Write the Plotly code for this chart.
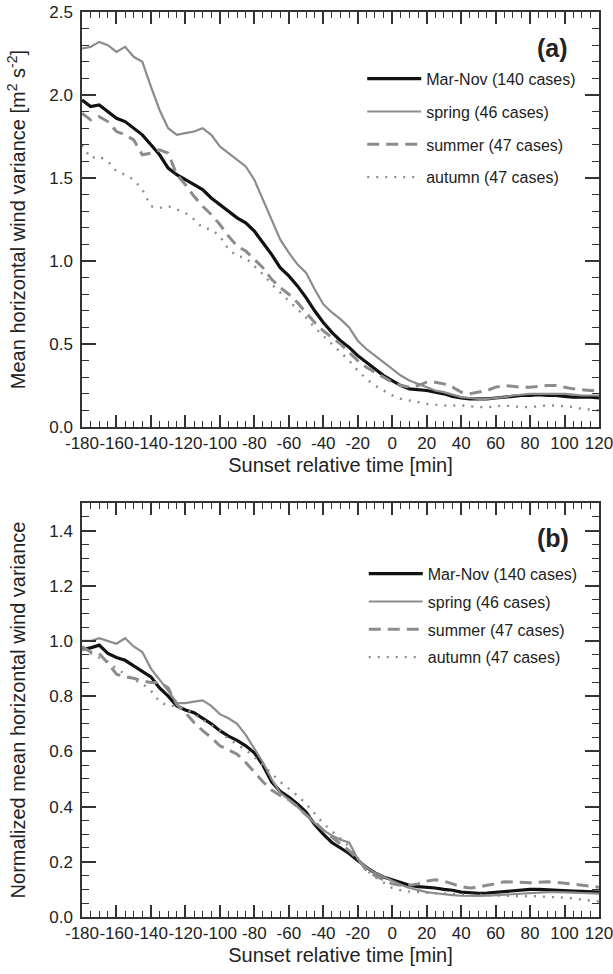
import plotly.graph_objects as go

# ---------------- data ----------------
time_min = list(range(-180, 121, 5))

series_names = ["Mar-Nov (140 cases)", "spring (46 cases)", "summer (47 cases)", "autumn (47 cases)"]

# panel (a): mean horizontal wind variance [m2 s-2]
a_marnov = [1.97, 1.93, 1.94, 1.90, 1.86, 1.84, 1.80, 1.76, 1.70, 1.64, 1.56, 1.52, 1.49, 1.46, 1.43, 1.38,
            1.34, 1.30, 1.26, 1.23, 1.18, 1.11, 1.04, 0.96, 0.91, 0.85, 0.78, 0.70, 0.63, 0.57, 0.52, 0.48,
            0.43, 0.39, 0.35, 0.31, 0.28, 0.25, 0.23, 0.225, 0.22, 0.21, 0.20, 0.185, 0.175, 0.17, 0.17, 0.17,
            0.175, 0.18, 0.185, 0.19, 0.19, 0.195, 0.19, 0.19, 0.185, 0.18, 0.18, 0.18, 0.175]
a_spring = [2.28, 2.29, 2.32, 2.30, 2.26, 2.29, 2.23, 2.20, 2.05, 1.91, 1.80, 1.76, 1.77, 1.78, 1.80, 1.76,
            1.69, 1.65, 1.61, 1.57, 1.49, 1.37, 1.25, 1.13, 1.05, 0.98, 0.93, 0.83, 0.74, 0.69, 0.65, 0.60,
            0.52, 0.47, 0.43, 0.39, 0.35, 0.31, 0.28, 0.26, 0.24, 0.22, 0.21, 0.195, 0.18, 0.175, 0.17, 0.17,
            0.175, 0.18, 0.19, 0.195, 0.20, 0.20, 0.20, 0.20, 0.20, 0.195, 0.19, 0.19, 0.19]
a_summer = [1.89, 1.85, 1.87, 1.84, 1.78, 1.76, 1.73, 1.64, 1.65, 1.67, 1.65, 1.52, 1.46, 1.39, 1.33, 1.28,
            1.22, 1.15, 1.09, 1.06, 1.01, 0.96, 0.89, 0.84, 0.80, 0.75, 0.69, 0.63, 0.58, 0.54, 0.50, 0.45,
            0.40, 0.36, 0.33, 0.30, 0.27, 0.25, 0.24, 0.25, 0.27, 0.27, 0.26, 0.24, 0.21, 0.20, 0.21, 0.22,
            0.24, 0.25, 0.245, 0.24, 0.24, 0.245, 0.25, 0.25, 0.24, 0.23, 0.225, 0.22, 0.22]
a_autumn = [1.70, 1.62, 1.63, 1.60, 1.54, 1.52, 1.49, 1.43, 1.33, 1.32, 1.33, 1.31, 1.29, 1.25, 1.20, 1.19,
            1.15, 1.07, 1.03, 1.02, 0.97, 0.92, 0.86, 0.81, 0.76, 0.71, 0.66, 0.60, 0.55, 0.50, 0.45, 0.40,
            0.34, 0.29, 0.25, 0.22, 0.19, 0.17, 0.16, 0.15, 0.14, 0.135, 0.13, 0.13, 0.13, 0.125, 0.12, 0.12,
            0.125, 0.13, 0.125, 0.12, 0.12, 0.125, 0.13, 0.13, 0.125, 0.12, 0.11, 0.105, 0.10]

# panel (b): normalized mean horizontal wind variance
b_marnov = [0.97, 0.975, 0.985, 0.955, 0.94, 0.93, 0.91, 0.89, 0.87, 0.83, 0.80, 0.765, 0.75, 0.74, 0.72, 0.70,
            0.675, 0.655, 0.64, 0.62, 0.595, 0.55, 0.49, 0.455, 0.435, 0.41, 0.38, 0.335, 0.30, 0.27, 0.25, 0.23,
            0.205, 0.18, 0.16, 0.145, 0.135, 0.125, 0.115, 0.11, 0.108, 0.105, 0.10, 0.097, 0.09, 0.087, 0.086, 0.087,
            0.09, 0.093, 0.096, 0.098, 0.10, 0.10, 0.098, 0.097, 0.095, 0.094, 0.093, 0.092, 0.09]
b_spring = [1.00, 1.00, 1.01, 1.00, 0.99, 1.01, 0.98, 0.96, 0.90, 0.86, 0.82, 0.775, 0.775, 0.78, 0.785, 0.765,
            0.735, 0.72, 0.70, 0.66, 0.61, 0.56, 0.50, 0.45, 0.425, 0.40, 0.37, 0.34, 0.315, 0.295, 0.28, 0.27,
            0.21, 0.18, 0.16, 0.145, 0.13, 0.117, 0.105, 0.098, 0.09, 0.086, 0.082, 0.079, 0.077, 0.076, 0.076, 0.077,
            0.079, 0.081, 0.084, 0.086, 0.088, 0.089, 0.09, 0.09, 0.09, 0.088, 0.087, 0.086, 0.085]
b_summer = [0.98, 0.96, 0.955, 0.92, 0.88, 0.87, 0.865, 0.855, 0.85, 0.85, 0.83, 0.77, 0.74, 0.705, 0.675, 0.65,
            0.62, 0.605, 0.59, 0.56, 0.525, 0.49, 0.46, 0.44, 0.425, 0.40, 0.37, 0.345, 0.315, 0.29, 0.265, 0.24,
            0.21, 0.17, 0.15, 0.135, 0.12, 0.115, 0.115, 0.12, 0.13, 0.135, 0.13, 0.12, 0.11, 0.105, 0.108, 0.115,
            0.12, 0.128, 0.127, 0.125, 0.124, 0.126, 0.128, 0.126, 0.122, 0.118, 0.114, 0.11, 0.108]
b_autumn = [0.97, 0.955, 0.94, 0.925, 0.90, 0.88, 0.86, 0.845, 0.82, 0.78, 0.765, 0.765, 0.755, 0.735, 0.715, 0.695,
            0.675, 0.645, 0.625, 0.605, 0.58, 0.55, 0.52, 0.49, 0.465, 0.44, 0.41, 0.375, 0.34, 0.31, 0.285, 0.255,
            0.215, 0.17, 0.145, 0.125, 0.105, 0.097, 0.092, 0.09, 0.087, 0.086, 0.085, 0.083, 0.081, 0.08, 0.08, 0.079,
            0.078, 0.077, 0.075, 0.075, 0.076, 0.075, 0.074, 0.073, 0.07, 0.067, 0.064, 0.06, 0.056]

x_tickvals = list(range(-180, 121, 20))
x_ticktext = [str(v) for v in x_tickvals]
ya_tickvals = [0.0, 0.5, 1.0, 1.5, 2.0, 2.5]
yb_tickvals = [0.0, 0.2, 0.4, 0.6, 0.8, 1.0, 1.2, 1.4]

# ---------------- styling ----------------
FONT = "Liberation Sans, Arial, Helvetica, sans-serif"
AX = "#333333"
GREY = "#8c8c8c"
styles = [
    dict(color="#111111", width=3.2, dash="solid"),
    dict(color=GREY, width=2.2, dash="solid"),
    dict(color=GREY, width=3.0, dash="12px,7px"),
    dict(color=GREY, width=2.4, dash="2px,7px"),
]

fig = go.Figure()
panel_a = [a_marnov, a_spring, a_summer, a_autumn]
panel_b = [b_marnov, b_spring, b_summer, b_autumn]
for i, (name, ys) in enumerate(zip(series_names, panel_a)):
    fig.add_trace(go.Scatter(x=time_min, y=ys, mode="lines", name=name, line=styles[i],
                             xaxis="x", yaxis="y", legend="legend", legendgroup=f"a{i}"))
for i, (name, ys) in enumerate(zip(series_names, panel_b)):
    fig.add_trace(go.Scatter(x=time_min, y=ys, mode="lines", name=name, line=styles[i],
                             xaxis="x2", yaxis="y2", legend="legend2", legendgroup=f"b{i}"))

common = dict(showline=True, linecolor=AX, linewidth=1.5, mirror="ticks", ticks="inside",
              tickcolor=AX, tickwidth=1.5, showgrid=False, zeroline=False, automargin=False,
              ticklabeloverflow="allow",
              tickfont=dict(family=FONT, size=17, color="#222222"))

xcommon = dict(common, range=[-180, 120], tickmode="array", tickvals=x_tickvals, ticktext=x_ticktext,
               tickangle=0, ticklen=12,
               minor=dict(ticks="inside", ticklen=6, tickwidth=1.2, tickcolor=AX, dtick=5, tick0=-180),
               title=dict(text="Sunset relative time [min]", font=dict(family=FONT, size=20, color="#222222"),
                          standoff=6))

fig.update_layout(
    width=613, height=974,
    margin=dict(l=82, r=14, t=12, b=57),
    paper_bgcolor="white", plot_bgcolor="white",
    font=dict(family=FONT, color="#222222"),
    xaxis=dict(xcommon, domain=[0, 1], anchor="y"),
    yaxis=dict(common, domain=[0.5414, 1], anchor="x", range=[0, 2.5], tickmode="array",
               tickvals=ya_tickvals, tickformat=".1f", ticklen=14, ticklabelstandoff=4,
               minor=dict(ticks="inside", ticklen=7, tickwidth=1.2, tickcolor=AX, dtick=0.1, tick0=0),
               title=dict(text="Mean horizontal wind variance [m<sup>2</sup> s<sup>-2</sup>]",
                          font=dict(family=FONT, size=20, color="#222222"), standoff=18)),
    xaxis2=dict(xcommon, domain=[0, 1], anchor="y2"),
    yaxis2=dict(common, domain=[0, 0.4575], anchor="x2", range=[0, 1.5], tickmode="array",
                tickvals=yb_tickvals, tickformat=".1f", ticklen=14, ticklabelstandoff=4,
                minor=dict(ticks="inside", ticklen=7, tickwidth=1.2, tickcolor=AX, dtick=0.05, tick0=0),
                title=dict(text="Normalized mean horizontal wind variance",
                           font=dict(family=FONT, size=20, color="#222222"), standoff=18)),
    legend=dict(x=0.542, y=0.945, xanchor="left", yanchor="top", bgcolor="rgba(0,0,0,0)",
                font=dict(family=FONT, size=16, color="#222222"), traceorder="grouped",
                tracegroupgap=9, itemwidth=54),
    legend2=dict(x=0.545, y=0.398, xanchor="left", yanchor="top", bgcolor="rgba(0,0,0,0)",
                 font=dict(family=FONT, size=16, color="#222222"), traceorder="grouped",
                 tracegroupgap=4, itemwidth=54),
    annotations=[
        dict(text="<b>(a)</b>", x=0.911, y=0.960, xref="paper", yref="paper", showarrow=False,
             xanchor="center", yanchor="middle",
             font=dict(family=FONT, size=25, color="#222222")),
        dict(text="<b>(b)</b>", x=0.911, y=0.4188, xref="paper", yref="paper", showarrow=False,
             xanchor="center", yanchor="middle",
             font=dict(family=FONT, size=25, color="#222222")),
    ],
)

fig.write_html("out.html")
